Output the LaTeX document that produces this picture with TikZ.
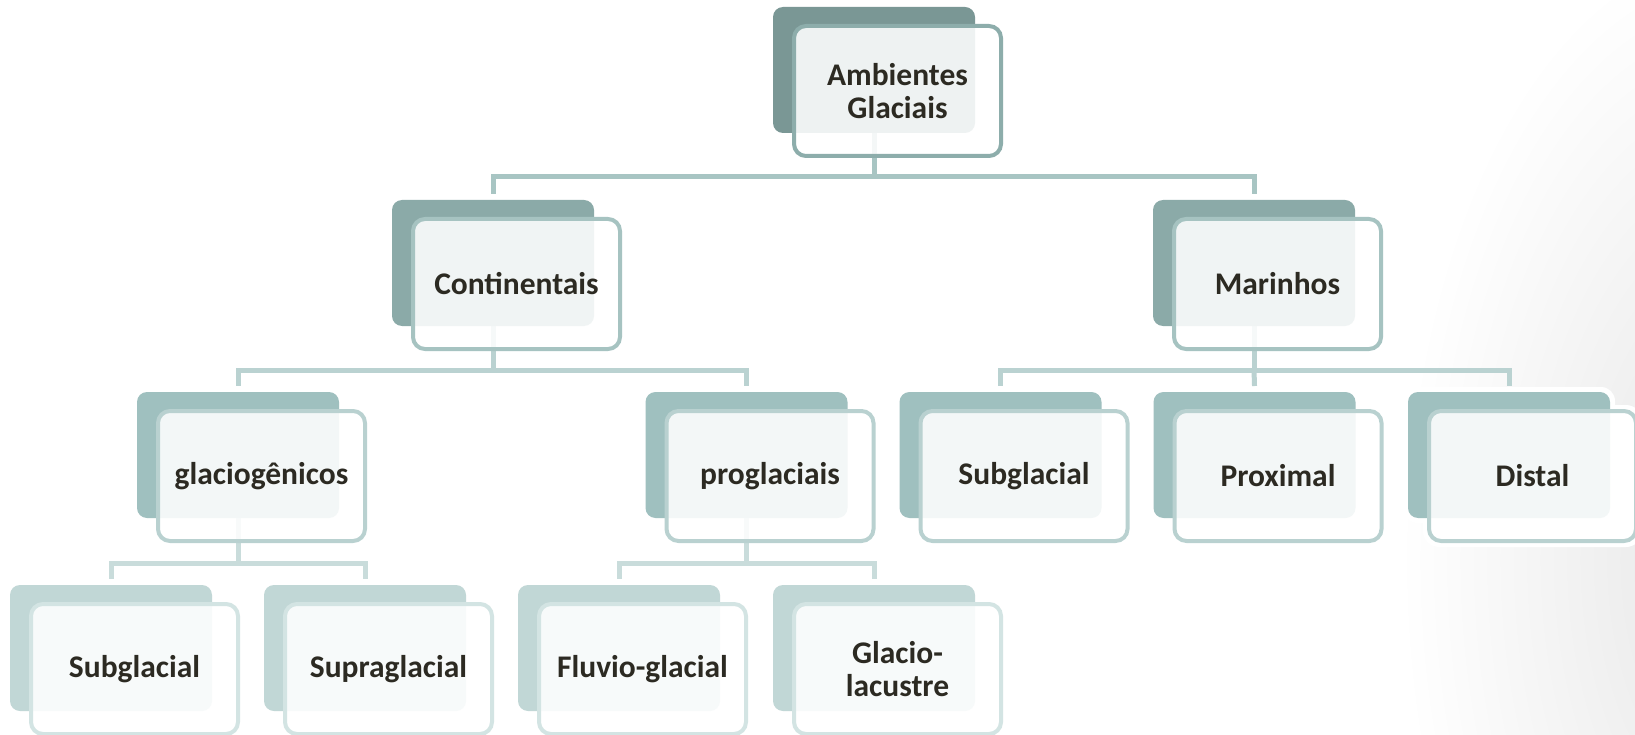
\documentclass[tikz,border=0pt]{standalone}
\usepackage{fontspec}
\setmainfont{Carlito}
\usetikzlibrary{calc}
\definecolor{backA}{HTML}{7A9795}
\definecolor{frontA}{HTML}{8DADAB}
\definecolor{connA}{HTML}{A8C5C3}
\definecolor{backB}{HTML}{8BAAA8}
\definecolor{frontB}{HTML}{A6C3C1}
\definecolor{connB}{HTML}{BAD2D1}
\definecolor{backC}{HTML}{9FC0BF}
\definecolor{frontC}{HTML}{B9D1D0}
\definecolor{connC}{HTML}{C9DCDB}
\definecolor{backD}{HTML}{C1D7D6}
\definecolor{frontD}{HTML}{D3E4E3}
\definecolor{txt}{HTML}{2C2A22}
\pgfdeclarelayer{halo}
\pgfdeclarelayer{conn}
\pgfsetlayers{halo,conn,main}
\tikzset{
  backbox/.style={rectangle, rounded corners=10pt, minimum width=202pt, minimum height=126pt, inner sep=0pt, outer sep=0pt},
  frontbox/.style={rectangle, rounded corners=12pt, minimum width=207pt, minimum height=130pt, inner sep=0pt, outer sep=0pt,
    line width=4pt, fill=white, fill opacity=0.88, text opacity=1, text=txt, align=center,
    font=\bfseries\fontsize{31.5}{33}\selectfont},
  connline/.style={line width=5pt}
}
\newcommand\gbox[5]{%
  \node[backbox, fill=back#4] (b#1) at (#2,#3) {};
  \node[frontbox, draw=front#4] (f#1) at ([xshift=23.5pt,yshift=-21pt]b#1.center) {#5};
  \begin{pgfonlayer}{halo}
    \fill[white, rounded corners=14pt] ([shift={(-5pt,5pt)}]b#1.north west) rectangle ([shift={(5pt,-5pt)}]b#1.south east);
    \fill[white, rounded corners=16pt] ([shift={(-6pt,6pt)}]f#1.north west) rectangle ([shift={(6pt,-6pt)}]f#1.south east);
  \end{pgfonlayer}
}
\begin{document}
\begin{tikzpicture}[x=1pt,y=-1pt]
\begin{pgfonlayer}{halo}
\fill[white] (0,0) rectangle (1635,735);
\begin{scope}
\clip (0,0) rectangle (1635,735);
\shade[inner color=black!10, outer color=white] (1740,560) ellipse [x radius=340pt, y radius=620pt];
\end{scope}
\end{pgfonlayer}
\useasboundingbox (0,0) rectangle (1635,735);

\gbox{top}{874}{70}{A}{Ambientes\\Glaciais}
\gbox{cont}{493}{263}{B}{Continentais}
\gbox{mar}{1254}{263}{B}{Marinhos}
\gbox{glac}{238}{455}{C}{glaciogênicos}
\gbox{prog}{746.5}{455}{C}{proglaciais}
\gbox{msub}{1000.5}{455}{C}{Subglacial}
\gbox{prox}{1254.5}{455}{C}{Proximal}
\gbox{dist}{1509}{455}{C}{Distal}
\gbox{sub}{111}{648}{D}{Subglacial}
\gbox{supra}{365}{648}{D}{Supraglacial}
\gbox{fluv}{619}{648}{D}{Fluvio-glacial}
\gbox{glla}{874}{648}{D}{\fontsize{31.5}{37}\selectfont Glacio-\\lacustre}

\begin{pgfonlayer}{conn}
\coordinate (barA) at (874,177);
\coordinate (barB1) at (493,370);
\coordinate (barB2) at (1254,370);
\coordinate (barC1) at (238,563);
\coordinate (barC2) at (746.5,563);
\draw[connline, draw=connA] (btop.south) -- (barA) -| ([yshift=6pt]bcont.north);
\draw[connline, draw=connA] (barA) -| ([yshift=6pt]bmar.north);
\draw[connline, draw=connB] (bcont.south) -- (barB1) -| ([yshift=6pt]bglac.north);
\draw[connline, draw=connB] (barB1) -| ([yshift=6pt]bprog.north);
\draw[connline, draw=connB] (bmar.south) -- (barB2) -| ([yshift=6pt]bmsub.north);
\draw[connline, draw=connB] (barB2) -| ([yshift=6pt]bdist.north);
\draw[connline, draw=connB] (barB2) -- ([yshift=6pt]bprox.north);
\draw[connline, draw=connC] (bglac.south) -- (barC1) -| ([yshift=6pt]bsub.north);
\draw[connline, draw=connC] (barC1) -| ([yshift=6pt]bsupra.north);
\draw[connline, draw=connC] (bprog.south) -- (barC2) -| ([yshift=6pt]bfluv.north);
\draw[connline, draw=connC] (barC2) -| ([yshift=6pt]bglla.north);
\end{pgfonlayer}
\end{tikzpicture}
\end{document}
